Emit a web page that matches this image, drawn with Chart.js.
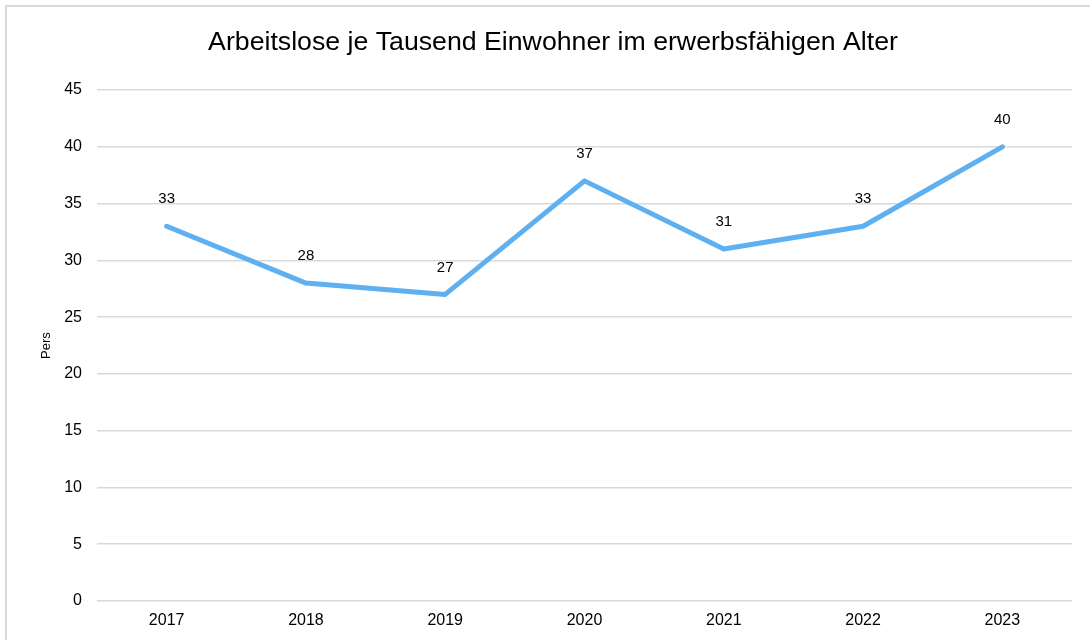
<!DOCTYPE html>
<html>
<head>
<meta charset="utf-8">
<script src="https://cdn.jsdelivr.net/npm/chart.js@4.4.1/dist/chart.umd.min.js"></script>
<style>
  html, body { margin: 0; padding: 0; background: #fff; overflow: hidden; }
  #frame {
    position: absolute; left: 5px; top: 5px;
    width: 1100px; height: 660px;
    border: 2px solid #d9d9d9;
  }
  #wrap { position: absolute; left: 0; top: 0; width: 1090px; height: 640px; }
</style>
</head>
<body>
<div id="frame"></div>
<div id="wrap"><canvas id="chart"></canvas></div>
<script>
const years = ['2017', '2018', '2019', '2020', '2021', '2022', '2023'];
const unemployed = [33, 28, 27, 37, 31, 33, 40];
const chartTitle = 'Arbeitslose je Tausend Einwohner im erwerbsfähigen Alter';
const axisLabel = 'Pers';

// simple value labels above each point
const pointLabels = {
  id: 'pointLabels',
  afterDatasetsDraw(chart) {
    const ctx = chart.ctx;
    const meta = chart.getDatasetMeta(0);
    ctx.save();
    ctx.font = '15px "Liberation Sans", Arial, sans-serif';
    ctx.fillStyle = '#000';
    ctx.textAlign = 'center';
    ctx.textBaseline = 'middle';
    meta.data.forEach((pt, i) => {
      ctx.fillText(String(chart.data.datasets[0].data[i]), pt.x, pt.y - 27);
    });
    ctx.restore();
  }
};

const font = { family: '"Liberation Sans", Arial, sans-serif' };

new Chart(document.getElementById('chart'), {
  type: 'line',
  data: {
    labels: years,
    datasets: [{
      data: unemployed,
      borderColor: '#5eb0f0',
      borderWidth: 5,
      pointRadius: 0,
      tension: 0,
      borderCapStyle: 'round',
      borderJoinStyle: 'round'
    }]
  },
  options: {
    responsive: true,
    maintainAspectRatio: false,
    animation: false,
    layout: { padding: { top: 0, right: 18, bottom: 0, left: 34 } },
    plugins: {
      legend: { display: false },
      tooltip: { enabled: false },
      title: {
        display: true,
        text: chartTitle,
        color: '#000',
        font: { ...font, size: 26.7, weight: 'normal' },
        padding: { top: 27, bottom: 31 }
      }
    },
    scales: {
      x: {
        offset: true,
        grid: { display: false, drawTicks: false },
        border: { display: false },
        ticks: { color: '#000', font: { ...font, size: 16 }, padding: 10 },
        afterFit(scale) { scale.height = 39; }
      },
      y: {
        min: 0,
        max: 45,
        ticks: { stepSize: 5, color: '#000', font: { ...font, size: 16 }, padding: 15 },
        grid: { color: '#d9d9d9', lineWidth: 1.5, drawTicks: false },
        border: { display: false },
        title: {
          display: true,
          text: axisLabel,
          color: '#000',
          font: { ...font, size: 13 },
          padding: { top: 5 }
        },
        afterFit(scale) { scale.width = 63; }
      }
    }
  },
  plugins: [pointLabels]
});
</script>
</body>
</html>
